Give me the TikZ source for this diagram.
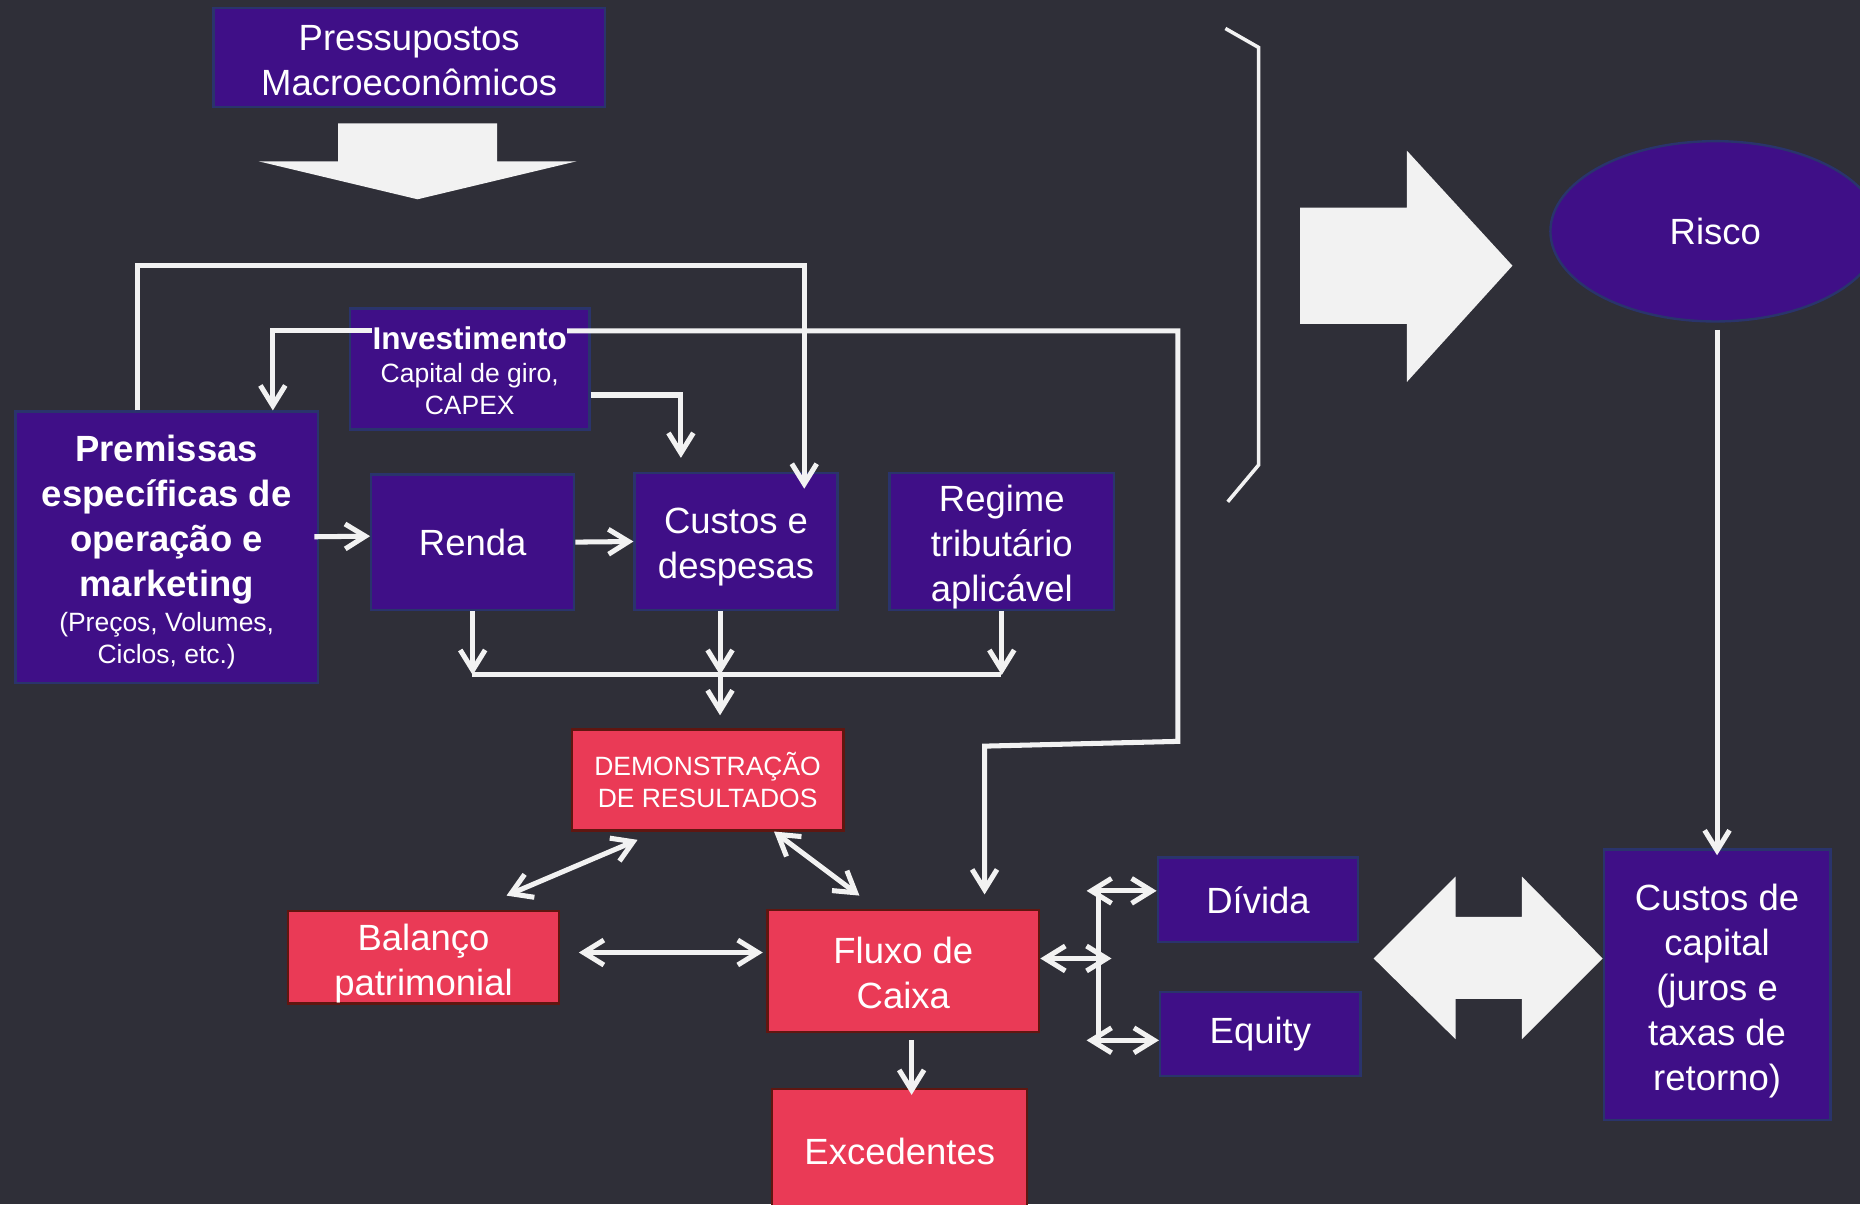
\documentclass[tikz,border=0pt]{standalone}
\usepackage{fontspec}
\setmainfont{Liberation Sans}
\usepackage{xcolor}
\usepackage{tikz}
\usetikzlibrary{arrows.meta, shapes.geometric, calc}

\definecolor{fundo}{RGB}{47,47,56}
\definecolor{roxo}{RGB}{63,15,135}
\definecolor{roxoborda}{RGB}{42,52,108}
\definecolor{verm}{RGB}{234,58,86}
\definecolor{vermborda}{RGB}{96,22,16}
\definecolor{branco}{RGB}{242,242,242}

\newcommand{\grande}{\fontsize{17.5}{21.6}\selectfont}
\newcommand{\media}{\fontsize{15.1}{18}\selectfont}
\newcommand{\pequena}{\fontsize{12.7}{15}\selectfont}
\newcommand{\topo}[1]{\rule{0pt}{#1em}}

\begin{document}
\begin{tikzpicture}[x=0.2mm, y=-0.2mm,
  pbox/.style={draw=roxoborda, line width=0.4mm, fill=roxo, text=white, align=center, font=\grande, inner sep=0pt},
  rbox/.style={draw=vermborda, line width=0.4mm, fill=verm, text=white, align=center, font=\grande, inner sep=0pt},
  wline/.style={draw=branco, line width=0.85mm},
  arr/.style={wline, -{Straight Barb[length=3.4mm, width=4.2mm]}},
  darr/.style={wline, {Straight Barb[length=3.4mm, width=4.2mm]}-{Straight Barb[length=3.4mm, width=4.2mm]}}]

\fill[fundo] (0,0) rectangle (1568,1015);
\clip (0,0) rectangle (1568,1015);

%% caixas roxas
\node[pbox, minimum width=66mm, minimum height=16.6mm] (press) at (345,48.5) {\topo{0.87}Pressupostos\\Macroeconômicos};

\node[pbox, minimum width=40.4mm, minimum height=20.4mm] (invest) at (396,311) {};
\node[text=white, font=\media\bfseries, inner sep=0pt] (invt) at (396,285) {Investimento};
\node[text=white, font=\pequena, align=center, inner sep=0pt] (invs) at (396,328) {Capital de giro,\\CAPEX};

\node[pbox, font=\grande\bfseries, minimum width=51mm, minimum height=45.8mm] (prem) at (140.5,461.5)
  {\topo{0.97}Premissas\\específicas de\\operação e\\marketing\\[-1.8mm]{\pequena\mdseries (Preços, Volumes,}\\[-2.2mm]{\pequena\mdseries Ciclos, etc.)}};
\node[pbox, minimum width=34.2mm, minimum height=22.8mm] (renda) at (398.5,457) {Renda};
\node[pbox, minimum width=34.2mm, minimum height=23mm] (custos) at (620.5,456.5) {\topo{1.02}Custos e\\despesas};
\node[pbox, minimum width=37.8mm, minimum height=23mm] (regime) at (844.5,456.5) {\topo{1.01}Regime\\tributário\\aplicável};

\node[pbox, minimum width=33.8mm, minimum height=14.2mm] (divida) at (1060.5,758.5) {Dívida};
\node[pbox, minimum width=33.8mm, minimum height=14.2mm] (equity) at (1062.5,871.5) {Equity};
\node[pbox, minimum width=38.2mm, minimum height=45.6mm] (costcap) at (1447.5,830) {\topo{1.06}Custos de\\capital\\(juros e\\taxas de\\retorno)};
\node[pbox, ellipse, minimum width=55.6mm, minimum height=30.4mm] (risco) at (1446,195) {Risco};

%% caixas vermelhas
\node[rbox, font=\pequena, minimum width=45.8mm, minimum height=17mm] (dem) at (596.5,657.5) {DEMONSTRAÇÃO\\DE RESULTADOS};
\node[rbox, minimum width=45.6mm, minimum height=15.6mm] (balanco) at (357,807) {\topo{1.05}Balanço\\patrimonial};
\node[rbox, minimum width=45.8mm, minimum height=20.6mm] (fluxo) at (761.5,818.5) {\topo{0.83}Fluxo de\\Caixa};
\node[rbox, minimum width=43mm, minimum height=21.2mm] (exced) at (758.5,971) {Excedentes};

%% setas grandes
\fill[branco] (285,104) -- (419,104) -- (419,136) -- (486,136) -- (352,168) -- (218,136) -- (285,136) -- cycle;
\fill[branco] (1096,175) -- (1186,175) -- (1186,127) -- (1275,224) -- (1186,322) -- (1186,273) -- (1096,273) -- cycle;
\fill[branco] (1158,808) -- (1227,739) -- (1227,773) -- (1283,773) -- (1283,739) -- (1351,808) -- (1283,876) -- (1283,842) -- (1227,842) -- (1227,876) -- cycle;
\draw[branco, line width=0.6mm] (1033,24) -- (1061,40) -- (1061,392) -- (1035,423);

%% ligacoes
\coordinate (k1) at (116,224);
\coordinate (k2) at (678,224);
\draw[arr] (prem.north -| k1) -- (k1) -- (k2) -- ($(custos.north -| k2)+(0,14)$);

\coordinate (k3) at (230,279);
\coordinate (k4) at (993,279);
\coordinate (k5) at (993,625);
\coordinate (k6) at (830,629);
\draw[arr] ($(invt.west)+(0,-6)$) -- (k3) -- (prem.north -| k3);
\draw[arr] ($(invt.east)+(0,-6)$) -- (k4) -- (k5) -- (k6) -- ($(fluxo.north -| k6)+(0,-12)$);

\coordinate (k7) at (574,333);
\draw[arr] (invest.east |- k7) -- (k7) -- ($(custos.north -| k7)+(0,-12)$);

\draw[arr] ($(prem.east)+(-4,-9)$) -- ($(renda.west)+(0,-5)$);
\draw[arr] (renda.east) -- (custos.west);

\coordinate (b1) at (398,569);
\coordinate (b2) at (844,569);
\coordinate (b3) at (607,569);
\draw[wline] (b1) -- (b2);
\foreach \n in {renda, regime}
  \draw[arr] (\n.south) -- (\n.south |- b1);
\draw[arr] (custos.south -| b3) -- (b3);
\draw[arr] (b3) -- ($(dem.north -| b3)+(0,-11)$);

\draw[darr] ($(dem.south)+(-59,7)$) -- ($(balanco.north)+(70,-12)$);
\draw[darr] ($(dem.south)+(56,0)$) -- ($(fluxo.north)+(-37,-11)$);
\draw[darr] ($(balanco.east)+(16,-4)$) -- ($(balanco.east -| fluxo.west)+(-3,-4)$);
\draw[arr] ($(fluxo.south)+(7,6)$) -- ($(exced.north)+(10,6)$);

\coordinate (v1) at (926,751);
\coordinate (v2) at (926,877);
\coordinate (v3) at (937,808);
\draw[wline] (v1) -- (v2);
\draw[darr] ($(v1)+(-10,0)$) -- (divida.west |- v1);
\draw[darr] ($(v2)+(-10,0)$) -- (equity.west |- v2);
\draw[darr] (fluxo.east |- v3) -- (v3);

\draw[arr] ($(risco.south -| costcap)+(0,6)$) -- ($(costcap.north)+(0,6)$);

\end{tikzpicture}
\end{document}
